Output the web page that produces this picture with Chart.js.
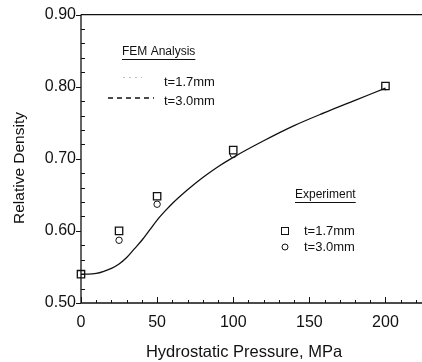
<!DOCTYPE html>
<html>
<head>
<meta charset="utf-8">
<script src="https://cdn.jsdelivr.net/npm/chart.js@4/dist/chart.umd.min.js"></script>
<style>
html, body { margin: 0; padding: 0; background: #fff; overflow: hidden; }
canvas { display: block; }
</style>
</head>
<body>
<canvas id="myChart" width="422" height="362"></canvas>
<script>
// FEM curve
var femPressure = [0, 5, 10, 15, 20, 25, 30, 35, 40, 45, 50, 55, 60, 70, 80, 90, 100, 120, 140, 160, 180, 200];
var femDensity = [0.540, 0.540, 0.541, 0.544, 0.548, 0.554, 0.563, 0.575, 0.587, 0.601, 0.615, 0.627, 0.638, 0.657, 0.674, 0.689, 0.702, 0.725, 0.746, 0.764, 0.781, 0.798];

// experiment points
var expPressure = [0, 25, 50, 100, 200];
var exp17 = [0.540, 0.600, 0.648, 0.712, 0.801];
var exp30 = [0.540, 0.587, 0.637, 0.706, 0.800];

var xTicks = [0, 50, 100, 150, 200];
var yTicks = [0.50, 0.60, 0.70, 0.80, 0.90];

var FONT = "'Liberation Sans', Arial, Helvetica, sans-serif";
var INK = '#111';

function pts(xs, ys) {
    return xs.map(function (x, i) { return { x: x, y: ys[i] }; });
}

// frame + inward ticks like the original plot
var axisTicks = {
    id: 'axisTicks',
    afterDraw: function (chart) {
        var ctx = chart.ctx, x = chart.scales.x, y = chart.scales.y, a = chart.chartArea;
        ctx.save();
        ctx.strokeStyle = INK;
        ctx.lineWidth = 1.3;
        ctx.beginPath();
        ctx.moveTo(a.left, a.top); ctx.lineTo(a.right, a.top);
        ctx.moveTo(a.left, a.top); ctx.lineTo(a.left, a.bottom);
        ctx.moveTo(a.left, a.bottom); ctx.lineTo(a.right, a.bottom);
        ctx.stroke();
        ctx.lineWidth = 1;
        ctx.beginPath();
        for (var v = 0; v <= 220; v += 10) {
            var px = Math.round(x.getPixelForValue(v)) + 0.5;
            var len = v % 50 == 0 ? 6 : 3;
            ctx.moveTo(px, a.bottom); ctx.lineTo(px, a.bottom - len);
        }
        for (var k = 0; k <= 20; k++) {
            var py = Math.round(y.getPixelForValue(0.5 + k * 0.02)) + 0.5;
            if (k % 5 == 0) { ctx.moveTo(a.left - 5, py); ctx.lineTo(a.left, py); }
            else { ctx.moveTo(a.left, py); ctx.lineTo(a.left + 4, py); }
        }
        ctx.stroke();
        ctx.restore();
    }
};

// axis titles and the two text blocks inside the plot
var notes = {
    id: 'notes',
    afterDraw: function (chart) {
        var ctx = chart.ctx;
        ctx.save();
        ctx.fillStyle = INK;
        ctx.strokeStyle = INK;
        ctx.textBaseline = 'middle';

        // axis titles
        ctx.font = '16.5px ' + FONT;
        ctx.textAlign = 'center';
        ctx.fillText('Hydrostatic Pressure, MPa', 244, 352);
        ctx.save();
        ctx.translate(20, 168);
        ctx.rotate(-Math.PI / 2);
        ctx.font = '15.5px ' + FONT;
        ctx.fillText('Relative Density', 0, 0);
        ctx.restore();
        ctx.textAlign = 'left';

        // FEM Analysis
        ctx.font = '12px ' + FONT;
        ctx.fillText('FEM Analysis', 122, 52);
        var w = ctx.measureText('FEM Analysis').width;
        ctx.lineWidth = 1;
        ctx.beginPath(); ctx.moveTo(122, 59.5); ctx.lineTo(122 + w, 59.5); ctx.stroke();
        ctx.font = '13px ' + FONT;
        ctx.fillText('t=1.7mm', 164, 82);
        ctx.fillText('t=3.0mm', 164, 101);
        ctx.save();
        ctx.strokeStyle = '#bbb';
        ctx.setLineDash([2, 4]);
        ctx.beginPath(); ctx.moveTo(123, 77.5); ctx.lineTo(142, 77.5); ctx.stroke();
        ctx.restore();
        ctx.save();
        ctx.lineWidth = 1.3;
        ctx.setLineDash([5, 4]);
        ctx.beginPath(); ctx.moveTo(108, 98); ctx.lineTo(154, 98); ctx.stroke();
        ctx.restore();

        // Experiment
        ctx.font = '12px ' + FONT;
        ctx.fillText('Experiment', 295, 195);
        w = ctx.measureText('Experiment').width;
        ctx.beginPath(); ctx.moveTo(295, 202.5); ctx.lineTo(295 + w, 202.5); ctx.stroke();
        ctx.font = '13px ' + FONT;
        ctx.fillText('t=1.7mm', 304, 231);
        ctx.fillText('t=3.0mm', 304, 247);
        ctx.lineWidth = 1;
        ctx.strokeRect(281.5, 227.5, 7, 7);
        ctx.beginPath(); ctx.arc(285, 247, 3, 0, Math.PI * 2); ctx.stroke();
        ctx.restore();
    }
};

var ctx = document.getElementById('myChart');
var chart = new Chart(ctx, {
    type: 'scatter',
    data: {
        datasets: [
            {
                label: 'FEM',
                data: pts(femPressure, femDensity),
                showLine: true,
                borderColor: INK,
                borderWidth: 1.3,
                pointRadius: 0,
                tension: 0.4,
                cubicInterpolationMode: 'monotone',
                fill: false
            },
            {
                label: 't=1.7mm',
                data: pts(expPressure, exp17),
                pointStyle: 'rect',
                pointRadius: 5.2,
                pointBorderWidth: 1.3,
                pointBackgroundColor: '#fff',
                pointBorderColor: INK,
                clip: false
            },
            {
                label: 't=3.0mm',
                data: pts(expPressure, exp30),
                pointStyle: 'circle',
                pointRadius: 3.2,
                pointBorderWidth: 1,
                pointBackgroundColor: 'rgba(255,255,255,0)',
                pointBorderColor: INK,
                clip: false
            }
        ]
    },
    options: {
        responsive: false,
        animation: false,
        devicePixelRatio: 1,
        layout: { padding: { left: 0, top: 13, right: 0, bottom: 0 } },
        scales: {
            x: {
                type: 'linear',
                min: 0,
                max: 224,
                afterBuildTicks: function (s) { s.ticks = xTicks.map(function (v) { return { value: v }; }); },
                afterFit: function (s) { s.height = 59; },
                grid: { display: false, drawTicks: false },
                border: { display: false },
                ticks: { color: INK, padding: 10, maxRotation: 0, font: { size: 16, family: FONT } }
            },
            y: {
                type: 'linear',
                min: 0.5,
                max: 0.9,
                afterBuildTicks: function (s) { s.ticks = yTicks.map(function (v) { return { value: v }; }); },
                afterFit: function (s) { s.width = 81; },
                grid: { display: false, drawTicks: false },
                border: { display: false },
                ticks: {
                    color: INK, padding: 5, font: { size: 16, family: FONT },
                    callback: function (v) { return v.toFixed(2); }
                }
            }
        },
        plugins: {
            legend: { display: false },
            tooltip: { enabled: false }
        }
    },
    plugins: [axisTicks, notes, {
        // pin the plot area to the original frame (left 81, right 422)
        id: 'pinArea',
        afterLayout: function (chart) {
            var x = chart.scales.x;
            x.left = 81; x.right = 422; x.width = 341;
            x.configure();
            chart.chartArea.right = 422;
            chart.chartArea.width = 341;
        }
    }]
});
</script>
</body>
</html>
